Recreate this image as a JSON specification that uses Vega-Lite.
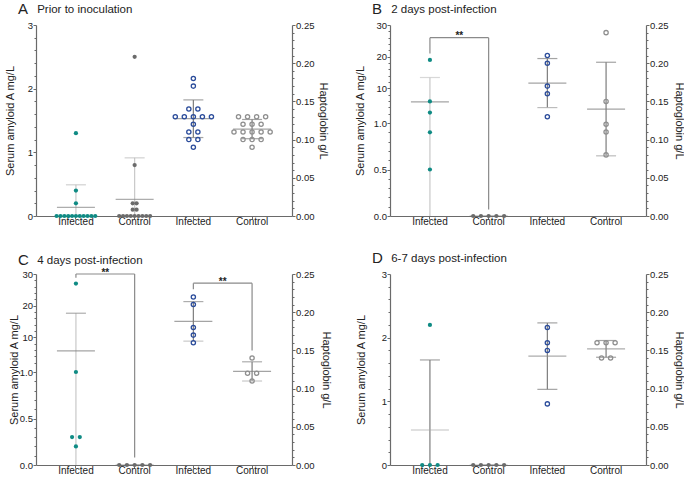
{
"$schema":"https://vega.github.io/schema/vega-lite/v6.json",
"padding":{"left":4,"top":2,"right":0,"bottom":0},
"config":{"view":{"stroke":null},"font":"Liberation Sans",
"axis":{"labelFont":"Liberation Sans","labelFontSize":10,"labelColor":"#222","titleFont":"Liberation Sans","titleFontSize":11,"titleFontWeight":"normal","titleColor":"#222","domainColor":"#6a6a6a","tickColor":"#6a6a6a","domainWidth":1.2,"tickWidth":1,"grid":false,"labelOverlap":false,"labelPadding":1},
"axisY":{"labelFontSize":9.5,"labelPadding":0.5},
"title":{"anchor":"start","frame":"group","fontSize":15,"fontWeight":"normal","font":"Liberation Sans","subtitleFont":"Liberation Sans","subtitleFontSize":11.5,"subtitlePadding":-13,"color":"#222","subtitleColor":"#222","offset":3,"dx":-18}},
"datasets":{
"br":[
{"p":"B","s":"S","a":"S|Infected","b":"S|Control","y":26,"ya":21,"yb":0.07},
{"p":"C","s":"S","a":"S|Infected","b":"S|Control","y":30,"ya":28.8,"yb":0.08},
{"p":"C","s":"H","a":"H|Infected","b":"H|Control","y":0.238,"ya":0.230,"yb":0.15}
],
"d":[
{"p":"A","c":"S|Infected","v":1.3},{"p":"A","c":"S|Infected","v":0.4},{"p":"A","c":"S|Infected","v":0.2},
{"p":"A","c":"S|Infected","v":0},{"p":"A","c":"S|Infected","v":0},{"p":"A","c":"S|Infected","v":0},{"p":"A","c":"S|Infected","v":0},{"p":"A","c":"S|Infected","v":0},{"p":"A","c":"S|Infected","v":0},{"p":"A","c":"S|Infected","v":0},{"p":"A","c":"S|Infected","v":0},{"p":"A","c":"S|Infected","v":0},{"p":"A","c":"S|Infected","v":0},{"p":"A","c":"S|Infected","v":0},
{"p":"A","c":"S|Control","v":2.5},{"p":"A","c":"S|Control","v":0.8},{"p":"A","c":"S|Control","v":0.2},{"p":"A","c":"S|Control","v":0.2},{"p":"A","c":"S|Control","v":0.1},{"p":"A","c":"S|Control","v":0.1},
{"p":"A","c":"S|Control","v":0},{"p":"A","c":"S|Control","v":0},{"p":"A","c":"S|Control","v":0},{"p":"A","c":"S|Control","v":0},{"p":"A","c":"S|Control","v":0},{"p":"A","c":"S|Control","v":0},{"p":"A","c":"S|Control","v":0},{"p":"A","c":"S|Control","v":0},{"p":"A","c":"S|Control","v":0},
{"p":"A","c":"H|Infected","v":0.18},{"p":"A","c":"H|Infected","v":0.17},{"p":"A","c":"H|Infected","v":0.14},{"p":"A","c":"H|Infected","v":0.14},{"p":"A","c":"H|Infected","v":0.13},{"p":"A","c":"H|Infected","v":0.13},{"p":"A","c":"H|Infected","v":0.13},{"p":"A","c":"H|Infected","v":0.13},{"p":"A","c":"H|Infected","v":0.13},{"p":"A","c":"H|Infected","v":0.12},{"p":"A","c":"H|Infected","v":0.11},{"p":"A","c":"H|Infected","v":0.11},{"p":"A","c":"H|Infected","v":0.1},{"p":"A","c":"H|Infected","v":0.1},{"p":"A","c":"H|Infected","v":0.09},
{"p":"A","c":"H|Control","v":0.13},{"p":"A","c":"H|Control","v":0.13},{"p":"A","c":"H|Control","v":0.13},{"p":"A","c":"H|Control","v":0.13},{"p":"A","c":"H|Control","v":0.12},{"p":"A","c":"H|Control","v":0.12},{"p":"A","c":"H|Control","v":0.12},{"p":"A","c":"H|Control","v":0.11},{"p":"A","c":"H|Control","v":0.11},{"p":"A","c":"H|Control","v":0.11},{"p":"A","c":"H|Control","v":0.11},{"p":"A","c":"H|Control","v":0.11},{"p":"A","c":"H|Control","v":0.1},{"p":"A","c":"H|Control","v":0.1},{"p":"A","c":"H|Control","v":0.1},{"p":"A","c":"H|Control","v":0.09},
{"p":"B","c":"S|Infected","v":19},{"p":"B","c":"S|Infected","v":5.9},{"p":"B","c":"S|Infected","v":2.4},{"p":"B","c":"S|Infected","v":0.9},{"p":"B","c":"S|Infected","v":0.5},
{"p":"B","c":"S|Control","v":0},{"p":"B","c":"S|Control","v":0},{"p":"B","c":"S|Control","v":0},{"p":"B","c":"S|Control","v":0},{"p":"B","c":"S|Control","v":0},
{"p":"B","c":"H|Infected","v":0.21},{"p":"B","c":"H|Infected","v":0.2},{"p":"B","c":"H|Infected","v":0.17},{"p":"B","c":"H|Infected","v":0.16},{"p":"B","c":"H|Infected","v":0.13},
{"p":"B","c":"H|Control","v":0.24},{"p":"B","c":"H|Control","v":0.15},{"p":"B","c":"H|Control","v":0.12},{"p":"B","c":"H|Control","v":0.11},{"p":"B","c":"H|Control","v":0.08},
{"p":"C","c":"S|Infected","v":27},{"p":"C","c":"S|Infected","v":1},{"p":"C","c":"S|Infected","v":0.3},{"p":"C","c":"S|Infected","v":0.3},{"p":"C","c":"S|Infected","v":0.2},
{"p":"C","c":"S|Control","v":0},{"p":"C","c":"S|Control","v":0},{"p":"C","c":"S|Control","v":0},{"p":"C","c":"S|Control","v":0},{"p":"C","c":"S|Control","v":0},
{"p":"C","c":"H|Infected","v":0.22},{"p":"C","c":"H|Infected","v":0.21},{"p":"C","c":"H|Infected","v":0.18},{"p":"C","c":"H|Infected","v":0.17},{"p":"C","c":"H|Infected","v":0.16},
{"p":"C","c":"H|Control","v":0.14},{"p":"C","c":"H|Control","v":0.12},{"p":"C","c":"H|Control","v":0.12},{"p":"C","c":"H|Control","v":0.11},
{"p":"D","c":"S|Infected","v":2.2},{"p":"D","c":"S|Infected","v":0},{"p":"D","c":"S|Infected","v":0},{"p":"D","c":"S|Infected","v":0},
{"p":"D","c":"S|Control","v":0},{"p":"D","c":"S|Control","v":0},{"p":"D","c":"S|Control","v":0},{"p":"D","c":"S|Control","v":0},{"p":"D","c":"S|Control","v":0},
{"p":"D","c":"H|Infected","v":0.18},{"p":"D","c":"H|Infected","v":0.16},{"p":"D","c":"H|Infected","v":0.15},{"p":"D","c":"H|Infected","v":0.08},
{"p":"D","c":"H|Control","v":0.16},{"p":"D","c":"H|Control","v":0.16},{"p":"D","c":"H|Control","v":0.16},{"p":"D","c":"H|Control","v":0.14},{"p":"D","c":"H|Control","v":0.14}
]},
"columns":2,
"spacing":{"row":58,"column":98},
"bounds":"flush",
"concat":[
{"width":256,"height":191,
 "title":{"text":"A","subtitle":"\u200b\u00a0\u00a0\u00a0\u00a0\u00a0\u00a0Prior to inoculation","offset":3},
 "resolve":{"scale":{"y":"independent"}},
 "layer":[
  {"data":{"name":"d"},"transform":[{"filter":"datum.p=='A'&&indexof(datum.c,'S')==0"}],
   "layer":[
    {"transform":[{"aggregate":[{"op":"mean","field":"v","as":"mu"},{"op":"stdev","field":"v","as":"sd"}],"groupby":["p","c"]},{"calculate":"datum.mu-datum.sd","as":"lo"},{"calculate":"datum.mu+datum.sd","as":"hi"}],
     "layer":[
      {"mark":{"type":"rule","clip":true,"strokeWidth":1.2,"color":"#c8c8c8"},"encoding":{"x":{"field":"c","type":"nominal","scale":{"domain":["S|Infected","S|Control","H|Infected","H|Control"],"paddingInner":0,"paddingOuter":0.18},"title":null},"y":{"field":"lo","type":"quantitative","scale":{"domain":[0,3],"nice":false,"zero":false},"title":"Serum amyloid A mg/L"},"y2":{"field":"hi"}}},
      {"mark":{"type":"tick","clip":true,"size":20,"thickness":1.2,"color":"#bdbdbd"},"encoding":{"x":{"field":"c","type":"nominal","scale":{"domain":["S|Infected","S|Control","H|Infected","H|Control"],"paddingInner":0,"paddingOuter":0.18},"title":null},"y":{"field":"hi","type":"quantitative","scale":{"domain":[0,3],"nice":false,"zero":false},"title":"Serum amyloid A mg/L"}}},
      {"mark":{"type":"tick","clip":true,"size":38,"thickness":1.2,"color":"#8a8a8a"},"encoding":{"x":{"field":"c","type":"nominal","scale":{"domain":["S|Infected","S|Control","H|Infected","H|Control"],"paddingInner":0,"paddingOuter":0.18},"title":null},"y":{"field":"mu","type":"quantitative","scale":{"domain":[0,3],"nice":false,"zero":false},"title":"Serum amyloid A mg/L"}}}
     ]},
    {"transform":[{"window":[{"op":"row_number","as":"rn"}],"groupby":["c","v"]},{"joinaggregate":[{"op":"count","as":"n"}],"groupby":["c","v"]},{"calculate":"(datum.rn-(datum.n+1)/2)*0.5","as":"o"}],
     "mark":{"type":"point","filled":true,"size":18,"opacity":1},
     "encoding":{"x":{"field":"c","type":"nominal","scale":{"domain":["S|Infected","S|Control","H|Infected","H|Control"],"paddingInner":0,"paddingOuter":0.18},"title":null,"axis":{"labelExpr":"split(datum.label,'|')[1]","labelAngle":0,"labelAlign":"center","bandPosition":0.5,"tickSize":3,"labelPadding":2}},
      "xOffset":{"field":"o","type":"quantitative","scale":{"domain":[-3.8,3.8],"range":[0,58.72]}},
      "y":{"field":"v","type":"quantitative","scale":{"domain":[0,3],"nice":false,"zero":false},"title":"Serum amyloid A mg/L","axis":{"values":[0,0.2,0.4,0.6,0.8,1,1.2,1.4,1.6,1.8,2,2.2,2.4,2.6,2.8,3],"tickCount":100,"labelExpr":"(datum.value==0||datum.value==1||datum.value==2||datum.value==3)?format(datum.value,'d'):''","tickSize":{"condition":{"test":"datum.value==0||datum.value==1||datum.value==2||datum.value==3","value":3},"value":2},"titleX":-26,"titleBaseline":"middle"}},
      "color":{"field":"c","type":"nominal","scale":{"domain":["S|Infected","S|Control","H|Infected","H|Control"],"range":["#0f8b84","#6b6b6b","#2b4c9b","#8f8f8f"]},"legend":null}}}
   ]},
  {"data":{"name":"d"},"transform":[{"filter":"datum.p=='A'&&indexof(datum.c,'H')==0"}],
   "layer":[
    {"transform":[{"aggregate":[{"op":"mean","field":"v","as":"mu"},{"op":"stdev","field":"v","as":"sd"}],"groupby":["p","c"]},{"calculate":"datum.mu-datum.sd","as":"lo"},{"calculate":"datum.mu+datum.sd","as":"hi"}],
     "layer":[
      {"mark":{"type":"rule","clip":true,"strokeWidth":1.2,"color":"#7d7d7d"},"encoding":{"x":{"field":"c","type":"nominal","scale":{"domain":["S|Infected","S|Control","H|Infected","H|Control"],"paddingInner":0,"paddingOuter":0.18},"title":null},"y":{"field":"lo","type":"quantitative","scale":{"domain":[0,0.25],"nice":false,"zero":false},"title":"Haptoglobin g/L"},"y2":{"field":"hi"}}},
      {"mark":{"type":"tick","clip":true,"size":20,"thickness":1.2,"color":"#7d7d7d"},"encoding":{"x":{"field":"c","type":"nominal","scale":{"domain":["S|Infected","S|Control","H|Infected","H|Control"],"paddingInner":0,"paddingOuter":0.18},"title":null},"y":{"field":"hi","type":"quantitative","scale":{"domain":[0,0.25],"nice":false,"zero":false},"title":"Haptoglobin g/L"}}},
      {"mark":{"type":"tick","clip":true,"size":20,"thickness":1.2,"color":"#7d7d7d"},"encoding":{"x":{"field":"c","type":"nominal","scale":{"domain":["S|Infected","S|Control","H|Infected","H|Control"],"paddingInner":0,"paddingOuter":0.18},"title":null},"y":{"field":"lo","type":"quantitative","scale":{"domain":[0,0.25],"nice":false,"zero":false},"title":"Haptoglobin g/L"}}},
      {"mark":{"type":"tick","clip":true,"size":38,"thickness":1.2,"color":"#7d7d7d"},"encoding":{"x":{"field":"c","type":"nominal","scale":{"domain":["S|Infected","S|Control","H|Infected","H|Control"],"paddingInner":0,"paddingOuter":0.18},"title":null},"y":{"field":"mu","type":"quantitative","scale":{"domain":[0,0.25],"nice":false,"zero":false},"title":"Haptoglobin g/L"}}}
     ]},
    {"transform":[{"window":[{"op":"row_number","as":"rn"}],"groupby":["c","v"]},{"joinaggregate":[{"op":"count","as":"n"}],"groupby":["c","v"]},{"calculate":"(datum.rn-(datum.n+1)/2)*1.17","as":"o"}],
     "mark":{"type":"point","filled":false,"size":18,"strokeWidth":1.3,"opacity":1},
     "encoding":{"x":{"field":"c","type":"nominal","scale":{"domain":["S|Infected","S|Control","H|Infected","H|Control"],"paddingInner":0,"paddingOuter":0.18},"title":null},
      "xOffset":{"field":"o","type":"quantitative","scale":{"domain":[-3.8,3.8],"range":[0,58.72]}},
      "y":{"field":"v","type":"quantitative","scale":{"domain":[0,0.25],"nice":false,"zero":false},"title":"Haptoglobin g/L","axis":{"orient":"right","values":[0,0.01,0.02,0.03,0.04,0.05,0.06,0.07,0.08,0.09,0.1,0.11,0.12,0.13,0.14,0.15,0.16,0.17,0.18,0.19,0.2,0.21,0.22,0.23,0.24,0.25],"tickCount":100,"labelExpr":"(datum.value==0||datum.value==0.05||datum.value==0.1||datum.value==0.15||datum.value==0.2||datum.value==0.25)?format(datum.value,'.2f'):''","tickSize":{"condition":{"test":"datum.value==0||datum.value==0.05||datum.value==0.1||datum.value==0.15||datum.value==0.2||datum.value==0.25","value":3},"value":2},"titleX":30,"titleBaseline":"middle"}},
      "color":{"field":"c","type":"nominal","scale":{"domain":["S|Infected","S|Control","H|Infected","H|Control"],"range":["#0f8b84","#6b6b6b","#2b4c9b","#8f8f8f"]},"legend":null}}}
   ]}
 ]},
{"width":256,"height":191,
 "title":{"text":"B","subtitle":"\u200b\u00a0\u00a0\u00a0\u00a0\u00a0\u00a02 days post-infection","offset":3},
 "resolve":{"scale":{"y":"independent"}},
 "layer":[
  {"data":{"name":"d"},"transform":[{"filter":"datum.p=='B'&&indexof(datum.c,'S')==0"}],
   "layer":[
    {"transform":[{"aggregate":[{"op":"mean","field":"v","as":"mu"},{"op":"stdev","field":"v","as":"sd"}],"groupby":["p","c"]},{"calculate":"datum.mu-datum.sd","as":"lo"},{"calculate":"datum.mu+datum.sd","as":"hi"}],
     "layer":[
      {"mark":{"type":"rule","clip":true,"strokeWidth":1.2,"color":"#c8c8c8"},"encoding":{"x":{"field":"c","type":"nominal","scale":{"domain":["S|Infected","S|Control","H|Infected","H|Control"],"paddingInner":0,"paddingOuter":0.18},"title":null},"y":{"field":"lo","type":"quantitative","scale":{"domain":[0,1,1.00001,30],"range":[191,98,92,0],"nice":false,"zero":false},"title":"Serum amyloid A mg/L"},"y2":{"field":"hi"}}},
      {"mark":{"type":"tick","clip":true,"size":20,"thickness":1.2,"color":"#c8c8c8"},"encoding":{"x":{"field":"c","type":"nominal","scale":{"domain":["S|Infected","S|Control","H|Infected","H|Control"],"paddingInner":0,"paddingOuter":0.18},"title":null},"y":{"field":"hi","type":"quantitative","scale":{"domain":[0,1,1.00001,30],"range":[191,98,92,0],"nice":false,"zero":false},"title":"Serum amyloid A mg/L"}}},
      {"mark":{"type":"tick","clip":true,"size":38,"thickness":1.2,"color":"#7d7d7d"},"encoding":{"x":{"field":"c","type":"nominal","scale":{"domain":["S|Infected","S|Control","H|Infected","H|Control"],"paddingInner":0,"paddingOuter":0.18},"title":null},"y":{"field":"mu","type":"quantitative","scale":{"domain":[0,1,1.00001,30],"range":[191,98,92,0],"nice":false,"zero":false},"title":"Serum amyloid A mg/L"}}}
     ]},
    {"transform":[{"window":[{"op":"row_number","as":"rn"}],"groupby":["c","v"]},{"joinaggregate":[{"op":"count","as":"n"}],"groupby":["c","v"]},{"calculate":"(datum.rn-(datum.n+1)/2)","as":"o"}],
     "mark":{"type":"point","filled":true,"size":18,"opacity":1},
     "encoding":{"x":{"field":"c","type":"nominal","scale":{"domain":["S|Infected","S|Control","H|Infected","H|Control"],"paddingInner":0,"paddingOuter":0.18},"title":null,"axis":{"labelExpr":"split(datum.label,'|')[1]","labelAngle":0,"labelAlign":"center","bandPosition":0.5,"tickSize":3,"labelPadding":2}},
      "xOffset":{"field":"o","type":"quantitative","scale":{"domain":[-3.8,3.8],"range":[0,58.72]}},
      "y":{"field":"v","type":"quantitative","scale":{"domain":[0,1,1.00001,30],"range":[191,98,92,0],"nice":false,"zero":false},"title":"Serum amyloid A mg/L","axis":{"values":[0,0.1,0.2,0.3,0.4,0.5,0.6,0.7,0.8,0.9,1,2,4,6,8,10,12,14,16,18,20,22,24,26,28,30],"tickCount":100,"labelExpr":"(datum.value==0||datum.value==0.5||datum.value==1)?format(datum.value,'.1f'):((datum.value==10||datum.value==20||datum.value==30)?format(datum.value,'d'):'')","tickSize":{"condition":{"test":"datum.value==0||datum.value==0.5||datum.value==1||datum.value==10||datum.value==20||datum.value==30","value":3},"value":2},"titleX":-30,"titleBaseline":"middle"}},
      "color":{"field":"c","type":"nominal","scale":{"domain":["S|Infected","S|Control","H|Infected","H|Control"],"range":["#0f8b84","#6b6b6b","#2b4c9b","#8f8f8f"]},"legend":null}}}
   ]},
  {"data":{"name":"d"},"transform":[{"filter":"datum.p=='B'&&indexof(datum.c,'H')==0"}],
   "layer":[
    {"transform":[{"aggregate":[{"op":"mean","field":"v","as":"mu"},{"op":"stdev","field":"v","as":"sd"}],"groupby":["p","c"]},{"calculate":"datum.mu-datum.sd","as":"lo"},{"calculate":"datum.mu+datum.sd","as":"hi"}],
     "layer":[
      {"mark":{"type":"rule","clip":true,"strokeWidth":1.2,"color":"#7d7d7d"},"encoding":{"x":{"field":"c","type":"nominal","scale":{"domain":["S|Infected","S|Control","H|Infected","H|Control"],"paddingInner":0,"paddingOuter":0.18},"title":null},"y":{"field":"lo","type":"quantitative","scale":{"domain":[0,0.25],"nice":false,"zero":false},"title":"Haptoglobin g/L"},"y2":{"field":"hi"}}},
      {"mark":{"type":"tick","clip":true,"size":20,"thickness":1.2,"color":"#7d7d7d"},"encoding":{"x":{"field":"c","type":"nominal","scale":{"domain":["S|Infected","S|Control","H|Infected","H|Control"],"paddingInner":0,"paddingOuter":0.18},"title":null},"y":{"field":"hi","type":"quantitative","scale":{"domain":[0,0.25],"nice":false,"zero":false},"title":"Haptoglobin g/L"}}},
      {"mark":{"type":"tick","clip":true,"size":20,"thickness":1.2,"color":"#a0a0a0"},"encoding":{"x":{"field":"c","type":"nominal","scale":{"domain":["S|Infected","S|Control","H|Infected","H|Control"],"paddingInner":0,"paddingOuter":0.18},"title":null},"y":{"field":"lo","type":"quantitative","scale":{"domain":[0,0.25],"nice":false,"zero":false},"title":"Haptoglobin g/L"}}},
      {"mark":{"type":"tick","clip":true,"size":38,"thickness":1.2,"color":"#7d7d7d"},"encoding":{"x":{"field":"c","type":"nominal","scale":{"domain":["S|Infected","S|Control","H|Infected","H|Control"],"paddingInner":0,"paddingOuter":0.18},"title":null},"y":{"field":"mu","type":"quantitative","scale":{"domain":[0,0.25],"nice":false,"zero":false},"title":"Haptoglobin g/L"}}}
     ]},
    {"transform":[{"window":[{"op":"row_number","as":"rn"}],"groupby":["c","v"]},{"joinaggregate":[{"op":"count","as":"n"}],"groupby":["c","v"]},{"calculate":"(datum.rn-(datum.n+1)/2)*1.17","as":"o"}],
     "mark":{"type":"point","filled":false,"size":18,"strokeWidth":1.3,"opacity":1},
     "encoding":{"x":{"field":"c","type":"nominal","scale":{"domain":["S|Infected","S|Control","H|Infected","H|Control"],"paddingInner":0,"paddingOuter":0.18},"title":null},
      "xOffset":{"field":"o","type":"quantitative","scale":{"domain":[-3.8,3.8],"range":[0,58.72]}},
      "y":{"field":"v","type":"quantitative","scale":{"domain":[0,0.25],"nice":false,"zero":false},"title":"Haptoglobin g/L","axis":{"orient":"right","values":[0,0.01,0.02,0.03,0.04,0.05,0.06,0.07,0.08,0.09,0.1,0.11,0.12,0.13,0.14,0.15,0.16,0.17,0.18,0.19,0.2,0.21,0.22,0.23,0.24,0.25],"tickCount":100,"labelExpr":"(datum.value==0||datum.value==0.05||datum.value==0.1||datum.value==0.15||datum.value==0.2||datum.value==0.25)?format(datum.value,'.2f'):''","tickSize":{"condition":{"test":"datum.value==0||datum.value==0.05||datum.value==0.1||datum.value==0.15||datum.value==0.2||datum.value==0.25","value":3},"value":2},"titleX":32,"titleBaseline":"middle"}},
      "color":{"field":"c","type":"nominal","scale":{"domain":["S|Infected","S|Control","H|Infected","H|Control"],"range":["#0f8b84","#6b6b6b","#2b4c9b","#8f8f8f"]},"legend":null}}}
   ]},
  {"data":{"name":"br"},"transform":[{"filter":"datum.p=='B'&&datum.s=='S'"}],
   "layer":[
    {"mark":{"type":"rule","color":"#8a8a8a","strokeWidth":1.2},"encoding":{"x":{"field":"a","type":"nominal","scale":{"domain":["S|Infected","S|Control","H|Infected","H|Control"],"paddingInner":0,"paddingOuter":0.18},"title":null,"bandPosition":0.5},"x2":{"field":"b","bandPosition":0.5},"y":{"field":"y","type":"quantitative","scale":{"domain":[0,1,1.00001,30],"range":[191,98,92,0],"nice":false,"zero":false},"axis":null}}},
    {"mark":{"type":"rule","color":"#8a8a8a","strokeWidth":1.2},"encoding":{"x":{"field":"a","type":"nominal","scale":{"domain":["S|Infected","S|Control","H|Infected","H|Control"],"paddingInner":0,"paddingOuter":0.18},"title":null,"bandPosition":0.5},"y":{"field":"y","type":"quantitative","scale":{"domain":[0,1,1.00001,30],"range":[191,98,92,0],"nice":false,"zero":false},"axis":null},"y2":{"field":"ya"}}},
    {"mark":{"type":"rule","color":"#8a8a8a","strokeWidth":1.2},"encoding":{"x":{"field":"b","type":"nominal","scale":{"domain":["S|Infected","S|Control","H|Infected","H|Control"],"paddingInner":0,"paddingOuter":0.18},"title":null,"bandPosition":0.5},"y":{"field":"y","type":"quantitative","scale":{"domain":[0,1,1.00001,30],"range":[191,98,92,0],"nice":false,"zero":false},"axis":null},"y2":{"field":"yb"}}},
    {"mark":{"type":"text","text":"**","fontSize":10,"fontWeight":"bold","baseline":"alphabetic","dy":1.5,"color":"#222"},"encoding":{"x":{"field":"a","type":"nominal","scale":{"domain":["S|Infected","S|Control","H|Infected","H|Control"],"paddingInner":0,"paddingOuter":0.18},"title":null,"bandPosition":1},"y":{"field":"y","type":"quantitative","scale":{"domain":[0,1,1.00001,30],"range":[191,98,92,0],"nice":false,"zero":false},"axis":null}}}
   ]}
 ]},
{"width":256,"height":191,
 "title":{"text":"C","subtitle":"\u200b\u00a0\u00a0\u00a0\u00a0\u00a0\u00a04 days post-infection","offset":0},
 "resolve":{"scale":{"y":"independent"}},
 "layer":[
  {"data":{"name":"d"},"transform":[{"filter":"datum.p=='C'&&indexof(datum.c,'S')==0"}],
   "layer":[
    {"transform":[{"aggregate":[{"op":"mean","field":"v","as":"mu"},{"op":"stdev","field":"v","as":"sd"}],"groupby":["p","c"]},{"calculate":"datum.mu-datum.sd","as":"lo"},{"calculate":"datum.mu+datum.sd","as":"hi"}],
     "layer":[
      {"mark":{"type":"rule","clip":true,"strokeWidth":1.2,"color":"#c8c8c8"},"encoding":{"x":{"field":"c","type":"nominal","scale":{"domain":["S|Infected","S|Control","H|Infected","H|Control"],"paddingInner":0,"paddingOuter":0.18},"title":null},"y":{"field":"lo","type":"quantitative","scale":{"domain":[0,1,1.00001,30],"range":[191,98,92,0],"nice":false,"zero":false},"title":"Serum amyloid A mg/L"},"y2":{"field":"hi"}}},
      {"mark":{"type":"tick","clip":true,"size":20,"thickness":1.2,"color":"#8a8a8a"},"encoding":{"x":{"field":"c","type":"nominal","scale":{"domain":["S|Infected","S|Control","H|Infected","H|Control"],"paddingInner":0,"paddingOuter":0.18},"title":null},"y":{"field":"hi","type":"quantitative","scale":{"domain":[0,1,1.00001,30],"range":[191,98,92,0],"nice":false,"zero":false},"title":"Serum amyloid A mg/L"}}},
      {"mark":{"type":"tick","clip":true,"size":38,"thickness":1.2,"color":"#7d7d7d"},"encoding":{"x":{"field":"c","type":"nominal","scale":{"domain":["S|Infected","S|Control","H|Infected","H|Control"],"paddingInner":0,"paddingOuter":0.18},"title":null},"y":{"field":"mu","type":"quantitative","scale":{"domain":[0,1,1.00001,30],"range":[191,98,92,0],"nice":false,"zero":false},"title":"Serum amyloid A mg/L"}}}
     ]},
    {"transform":[{"window":[{"op":"row_number","as":"rn"}],"groupby":["c","v"]},{"joinaggregate":[{"op":"count","as":"n"}],"groupby":["c","v"]},{"calculate":"(datum.rn-(datum.n+1)/2)","as":"o"}],
     "mark":{"type":"point","filled":true,"size":18,"opacity":1},
     "encoding":{"x":{"field":"c","type":"nominal","scale":{"domain":["S|Infected","S|Control","H|Infected","H|Control"],"paddingInner":0,"paddingOuter":0.18},"title":null,"axis":{"labelExpr":"split(datum.label,'|')[1]","labelAngle":0,"labelAlign":"center","bandPosition":0.5,"tickSize":3,"labelPadding":2}},
      "xOffset":{"field":"o","type":"quantitative","scale":{"domain":[-3.8,3.8],"range":[0,58.72]}},
      "y":{"field":"v","type":"quantitative","scale":{"domain":[0,1,1.00001,30],"range":[191,98,92,0],"nice":false,"zero":false},"title":"Serum amyloid A mg/L","axis":{"values":[0,0.1,0.2,0.3,0.4,0.5,0.6,0.7,0.8,0.9,1,2,4,6,8,10,12,14,16,18,20,22,24,26,28,30],"tickCount":100,"labelExpr":"(datum.value==0||datum.value==0.5||datum.value==1)?format(datum.value,'.1f'):((datum.value==10||datum.value==20||datum.value==30)?format(datum.value,'d'):'')","tickSize":{"condition":{"test":"datum.value==0||datum.value==0.5||datum.value==1||datum.value==10||datum.value==20||datum.value==30","value":3},"value":2},"titleX":-22,"titleBaseline":"middle"}},
      "color":{"field":"c","type":"nominal","scale":{"domain":["S|Infected","S|Control","H|Infected","H|Control"],"range":["#0f8b84","#6b6b6b","#2b4c9b","#8f8f8f"]},"legend":null}}}
   ]},
  {"data":{"name":"d"},"transform":[{"filter":"datum.p=='C'&&indexof(datum.c,'H')==0"}],
   "layer":[
    {"transform":[{"aggregate":[{"op":"mean","field":"v","as":"mu"},{"op":"stdev","field":"v","as":"sd"}],"groupby":["p","c"]},{"calculate":"datum.mu-datum.sd","as":"lo"},{"calculate":"datum.mu+datum.sd","as":"hi"}],
     "layer":[
      {"mark":{"type":"rule","clip":true,"strokeWidth":1.2,"color":"#7d7d7d"},"encoding":{"x":{"field":"c","type":"nominal","scale":{"domain":["S|Infected","S|Control","H|Infected","H|Control"],"paddingInner":0,"paddingOuter":0.18},"title":null},"y":{"field":"lo","type":"quantitative","scale":{"domain":[0,0.25],"nice":false,"zero":false},"title":"Haptoglobin g/L"},"y2":{"field":"hi"}}},
      {"mark":{"type":"tick","clip":true,"size":20,"thickness":1.2,"color":"#8a8a8a"},"encoding":{"x":{"field":"c","type":"nominal","scale":{"domain":["S|Infected","S|Control","H|Infected","H|Control"],"paddingInner":0,"paddingOuter":0.18},"title":null},"y":{"field":"hi","type":"quantitative","scale":{"domain":[0,0.25],"nice":false,"zero":false},"title":"Haptoglobin g/L"}}},
      {"mark":{"type":"tick","clip":true,"size":20,"thickness":1.2,"color":"#b0b0b0"},"encoding":{"x":{"field":"c","type":"nominal","scale":{"domain":["S|Infected","S|Control","H|Infected","H|Control"],"paddingInner":0,"paddingOuter":0.18},"title":null},"y":{"field":"lo","type":"quantitative","scale":{"domain":[0,0.25],"nice":false,"zero":false},"title":"Haptoglobin g/L"}}},
      {"mark":{"type":"tick","clip":true,"size":38,"thickness":1.2,"color":"#7d7d7d"},"encoding":{"x":{"field":"c","type":"nominal","scale":{"domain":["S|Infected","S|Control","H|Infected","H|Control"],"paddingInner":0,"paddingOuter":0.18},"title":null},"y":{"field":"mu","type":"quantitative","scale":{"domain":[0,0.25],"nice":false,"zero":false},"title":"Haptoglobin g/L"}}}
     ]},
    {"transform":[{"window":[{"op":"row_number","as":"rn"}],"groupby":["c","v"]},{"joinaggregate":[{"op":"count","as":"n"}],"groupby":["c","v"]},{"calculate":"(datum.rn-(datum.n+1)/2)*1.17","as":"o"}],
     "mark":{"type":"point","filled":false,"size":18,"strokeWidth":1.3,"opacity":1},
     "encoding":{"x":{"field":"c","type":"nominal","scale":{"domain":["S|Infected","S|Control","H|Infected","H|Control"],"paddingInner":0,"paddingOuter":0.18},"title":null},
      "xOffset":{"field":"o","type":"quantitative","scale":{"domain":[-3.8,3.8],"range":[0,58.72]}},
      "y":{"field":"v","type":"quantitative","scale":{"domain":[0,0.25],"nice":false,"zero":false},"title":"Haptoglobin g/L","axis":{"orient":"right","values":[0,0.01,0.02,0.03,0.04,0.05,0.06,0.07,0.08,0.09,0.1,0.11,0.12,0.13,0.14,0.15,0.16,0.17,0.18,0.19,0.2,0.21,0.22,0.23,0.24,0.25],"tickCount":100,"labelExpr":"(datum.value==0||datum.value==0.05||datum.value==0.1||datum.value==0.15||datum.value==0.2||datum.value==0.25)?format(datum.value,'.2f'):''","tickSize":{"condition":{"test":"datum.value==0||datum.value==0.05||datum.value==0.1||datum.value==0.15||datum.value==0.2||datum.value==0.25","value":3},"value":2},"titleX":33,"titleBaseline":"middle"}},
      "color":{"field":"c","type":"nominal","scale":{"domain":["S|Infected","S|Control","H|Infected","H|Control"],"range":["#0f8b84","#6b6b6b","#2b4c9b","#8f8f8f"]},"legend":null}}}
   ]},
  {"data":{"name":"br"},"transform":[{"filter":"datum.p=='C'&&datum.s=='S'"}],
   "layer":[
    {"mark":{"type":"rule","color":"#8a8a8a","strokeWidth":1.2},"encoding":{"x":{"field":"a","type":"nominal","scale":{"domain":["S|Infected","S|Control","H|Infected","H|Control"],"paddingInner":0,"paddingOuter":0.18},"title":null,"bandPosition":0.5},"x2":{"field":"b","bandPosition":0.5},"y":{"field":"y","type":"quantitative","scale":{"domain":[0,1,1.00001,30],"range":[191,98,92,0],"nice":false,"zero":false},"axis":null}}},
    {"mark":{"type":"rule","color":"#8a8a8a","strokeWidth":1.2},"encoding":{"x":{"field":"a","type":"nominal","scale":{"domain":["S|Infected","S|Control","H|Infected","H|Control"],"paddingInner":0,"paddingOuter":0.18},"title":null,"bandPosition":0.5},"y":{"field":"y","type":"quantitative","scale":{"domain":[0,1,1.00001,30],"range":[191,98,92,0],"nice":false,"zero":false},"axis":null},"y2":{"field":"ya"}}},
    {"mark":{"type":"rule","color":"#8a8a8a","strokeWidth":1.2},"encoding":{"x":{"field":"b","type":"nominal","scale":{"domain":["S|Infected","S|Control","H|Infected","H|Control"],"paddingInner":0,"paddingOuter":0.18},"title":null,"bandPosition":0.5},"y":{"field":"y","type":"quantitative","scale":{"domain":[0,1,1.00001,30],"range":[191,98,92,0],"nice":false,"zero":false},"axis":null},"y2":{"field":"yb"}}},
    {"mark":{"type":"text","text":"**","fontSize":10,"fontWeight":"bold","baseline":"alphabetic","dy":1.5,"color":"#222"},"encoding":{"x":{"field":"a","type":"nominal","scale":{"domain":["S|Infected","S|Control","H|Infected","H|Control"],"paddingInner":0,"paddingOuter":0.18},"title":null,"bandPosition":1},"y":{"field":"y","type":"quantitative","scale":{"domain":[0,1,1.00001,30],"range":[191,98,92,0],"nice":false,"zero":false},"axis":null}}}
   ]},
  {"data":{"name":"br"},"transform":[{"filter":"datum.p=='C'&&datum.s=='H'"}],
   "layer":[
    {"mark":{"type":"rule","color":"#8a8a8a","strokeWidth":1.2},"encoding":{"x":{"field":"a","type":"nominal","scale":{"domain":["S|Infected","S|Control","H|Infected","H|Control"],"paddingInner":0,"paddingOuter":0.18},"title":null,"bandPosition":0.5},"x2":{"field":"b","bandPosition":0.5},"y":{"field":"y","type":"quantitative","scale":{"domain":[0,0.25],"nice":false,"zero":false},"axis":null}}},
    {"mark":{"type":"rule","color":"#8a8a8a","strokeWidth":1.2},"encoding":{"x":{"field":"a","type":"nominal","scale":{"domain":["S|Infected","S|Control","H|Infected","H|Control"],"paddingInner":0,"paddingOuter":0.18},"title":null,"bandPosition":0.5},"y":{"field":"y","type":"quantitative","scale":{"domain":[0,0.25],"nice":false,"zero":false},"axis":null},"y2":{"field":"ya"}}},
    {"mark":{"type":"rule","color":"#8a8a8a","strokeWidth":1.2},"encoding":{"x":{"field":"b","type":"nominal","scale":{"domain":["S|Infected","S|Control","H|Infected","H|Control"],"paddingInner":0,"paddingOuter":0.18},"title":null,"bandPosition":0.5},"y":{"field":"y","type":"quantitative","scale":{"domain":[0,0.25],"nice":false,"zero":false},"axis":null},"y2":{"field":"yb"}}},
    {"mark":{"type":"text","text":"**","fontSize":10,"fontWeight":"bold","baseline":"alphabetic","dy":1.5,"color":"#222"},"encoding":{"x":{"field":"a","type":"nominal","scale":{"domain":["S|Infected","S|Control","H|Infected","H|Control"],"paddingInner":0,"paddingOuter":0.18},"title":null,"bandPosition":1},"y":{"field":"y","type":"quantitative","scale":{"domain":[0,0.25],"nice":false,"zero":false},"axis":null}}}
   ]}
 ]},
{"width":256,"height":191,
 "title":{"text":"D","subtitle":"\u200b\u00a0\u00a0\u00a0\u00a0\u00a0\u00a06-7 days post-infection","offset":3},
 "resolve":{"scale":{"y":"independent"}},
 "layer":[
  {"data":{"name":"d"},"transform":[{"filter":"datum.p=='D'&&indexof(datum.c,'S')==0"}],
   "layer":[
    {"transform":[{"aggregate":[{"op":"mean","field":"v","as":"mu"},{"op":"stdev","field":"v","as":"sd"}],"groupby":["p","c"]},{"calculate":"datum.mu-datum.sd","as":"lo"},{"calculate":"datum.mu+datum.sd","as":"hi"}],
     "layer":[
      {"mark":{"type":"rule","clip":true,"strokeWidth":1.2,"color":"#7d7d7d"},"encoding":{"x":{"field":"c","type":"nominal","scale":{"domain":["S|Infected","S|Control","H|Infected","H|Control"],"paddingInner":0,"paddingOuter":0.18},"title":null},"y":{"field":"lo","type":"quantitative","scale":{"domain":[0,3],"nice":false,"zero":false},"title":"Serum amyloid A mg/L"},"y2":{"field":"hi"}}},
      {"mark":{"type":"tick","clip":true,"size":20,"thickness":1.2,"color":"#7d7d7d"},"encoding":{"x":{"field":"c","type":"nominal","scale":{"domain":["S|Infected","S|Control","H|Infected","H|Control"],"paddingInner":0,"paddingOuter":0.18},"title":null},"y":{"field":"hi","type":"quantitative","scale":{"domain":[0,3],"nice":false,"zero":false},"title":"Serum amyloid A mg/L"}}},
      {"mark":{"type":"tick","clip":true,"size":38,"thickness":1.2,"color":"#a8a8a8"},"encoding":{"x":{"field":"c","type":"nominal","scale":{"domain":["S|Infected","S|Control","H|Infected","H|Control"],"paddingInner":0,"paddingOuter":0.18},"title":null},"y":{"field":"mu","type":"quantitative","scale":{"domain":[0,3],"nice":false,"zero":false},"title":"Serum amyloid A mg/L"}}}
     ]},
    {"transform":[{"window":[{"op":"row_number","as":"rn"}],"groupby":["c","v"]},{"joinaggregate":[{"op":"count","as":"n"}],"groupby":["c","v"]},{"calculate":"(datum.rn-(datum.n+1)/2)","as":"o"}],
     "mark":{"type":"point","filled":true,"size":18,"opacity":1},
     "encoding":{"x":{"field":"c","type":"nominal","scale":{"domain":["S|Infected","S|Control","H|Infected","H|Control"],"paddingInner":0,"paddingOuter":0.18},"title":null,"axis":{"labelExpr":"split(datum.label,'|')[1]","labelAngle":0,"labelAlign":"center","bandPosition":0.5,"tickSize":3,"labelPadding":2}},
      "xOffset":{"field":"o","type":"quantitative","scale":{"domain":[-3.8,3.8],"range":[0,58.72]}},
      "y":{"field":"v","type":"quantitative","scale":{"domain":[0,3],"nice":false,"zero":false},"title":"Serum amyloid A mg/L","axis":{"values":[0,0.2,0.4,0.6,0.8,1,1.2,1.4,1.6,1.8,2,2.2,2.4,2.6,2.8,3],"tickCount":100,"labelExpr":"(datum.value==0||datum.value==1||datum.value==2||datum.value==3)?format(datum.value,'d'):''","tickSize":{"condition":{"test":"datum.value==0||datum.value==1||datum.value==2||datum.value==3","value":3},"value":2},"titleX":-29,"titleBaseline":"middle"}},
      "color":{"field":"c","type":"nominal","scale":{"domain":["S|Infected","S|Control","H|Infected","H|Control"],"range":["#0f8b84","#6b6b6b","#2b4c9b","#8f8f8f"]},"legend":null}}}
   ]},
  {"data":{"name":"d"},"transform":[{"filter":"datum.p=='D'&&indexof(datum.c,'H')==0"}],
   "layer":[
    {"transform":[{"aggregate":[{"op":"mean","field":"v","as":"mu"},{"op":"stdev","field":"v","as":"sd"}],"groupby":["p","c"]},{"calculate":"datum.mu-datum.sd","as":"lo"},{"calculate":"datum.mu+datum.sd","as":"hi"}],
     "layer":[
      {"mark":{"type":"rule","clip":true,"strokeWidth":1.2,"color":"#7d7d7d"},"encoding":{"x":{"field":"c","type":"nominal","scale":{"domain":["S|Infected","S|Control","H|Infected","H|Control"],"paddingInner":0,"paddingOuter":0.18},"title":null},"y":{"field":"lo","type":"quantitative","scale":{"domain":[0,0.25],"nice":false,"zero":false},"title":"Haptoglobin g/L"},"y2":{"field":"hi"}}},
      {"mark":{"type":"tick","clip":true,"size":20,"thickness":1.2,"color":"#7d7d7d"},"encoding":{"x":{"field":"c","type":"nominal","scale":{"domain":["S|Infected","S|Control","H|Infected","H|Control"],"paddingInner":0,"paddingOuter":0.18},"title":null},"y":{"field":"hi","type":"quantitative","scale":{"domain":[0,0.25],"nice":false,"zero":false},"title":"Haptoglobin g/L"}}},
      {"mark":{"type":"tick","clip":true,"size":20,"thickness":1.2,"color":"#7d7d7d"},"encoding":{"x":{"field":"c","type":"nominal","scale":{"domain":["S|Infected","S|Control","H|Infected","H|Control"],"paddingInner":0,"paddingOuter":0.18},"title":null},"y":{"field":"lo","type":"quantitative","scale":{"domain":[0,0.25],"nice":false,"zero":false},"title":"Haptoglobin g/L"}}},
      {"mark":{"type":"tick","clip":true,"size":38,"thickness":1.2,"color":"#8a8a8a"},"encoding":{"x":{"field":"c","type":"nominal","scale":{"domain":["S|Infected","S|Control","H|Infected","H|Control"],"paddingInner":0,"paddingOuter":0.18},"title":null},"y":{"field":"mu","type":"quantitative","scale":{"domain":[0,0.25],"nice":false,"zero":false},"title":"Haptoglobin g/L"}}}
     ]},
    {"transform":[{"window":[{"op":"row_number","as":"rn"}],"groupby":["c","v"]},{"joinaggregate":[{"op":"count","as":"n"}],"groupby":["c","v"]},{"calculate":"(datum.rn-(datum.n+1)/2)*1.17","as":"o"}],
     "mark":{"type":"point","filled":false,"size":18,"strokeWidth":1.3,"opacity":1},
     "encoding":{"x":{"field":"c","type":"nominal","scale":{"domain":["S|Infected","S|Control","H|Infected","H|Control"],"paddingInner":0,"paddingOuter":0.18},"title":null},
      "xOffset":{"field":"o","type":"quantitative","scale":{"domain":[-3.8,3.8],"range":[0,58.72]}},
      "y":{"field":"v","type":"quantitative","scale":{"domain":[0,0.25],"nice":false,"zero":false},"title":"Haptoglobin g/L","axis":{"orient":"right","values":[0,0.01,0.02,0.03,0.04,0.05,0.06,0.07,0.08,0.09,0.1,0.11,0.12,0.13,0.14,0.15,0.16,0.17,0.18,0.19,0.2,0.21,0.22,0.23,0.24,0.25],"tickCount":100,"labelExpr":"(datum.value==0||datum.value==0.05||datum.value==0.1||datum.value==0.15||datum.value==0.2||datum.value==0.25)?format(datum.value,'.2f'):''","tickSize":{"condition":{"test":"datum.value==0||datum.value==0.05||datum.value==0.1||datum.value==0.15||datum.value==0.2||datum.value==0.25","value":3},"value":2},"titleX":32,"titleBaseline":"middle"}},
      "color":{"field":"c","type":"nominal","scale":{"domain":["S|Infected","S|Control","H|Infected","H|Control"],"range":["#0f8b84","#6b6b6b","#2b4c9b","#8f8f8f"]},"legend":null}}}
   ]}
 ]}
]
}
